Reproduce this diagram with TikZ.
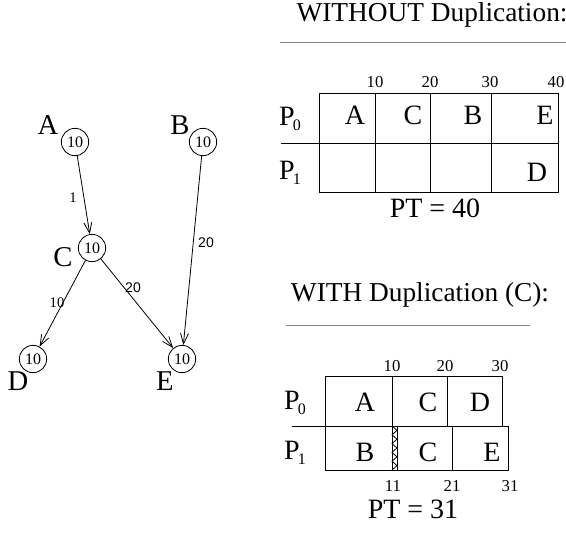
\documentclass[tikz,border=0pt]{standalone}
\usepackage{fontspec}
\setmainfont{Liberation Serif}
\setsansfont{Liberation Sans}
\usetikzlibrary{arrows.meta}

% processor name with a low index
\newcommand{\proc}[1]{P\kern-1.5pt\raisebox{-4pt}{\fontsize{12}{12}\selectfont #1}}

\begin{document}
\begin{tikzpicture}[x=0.75pt, y=-0.75pt, line width=0.6pt,
    task/.style={draw, circle, minimum size=20.5pt, inner sep=0pt, font=\fontsize{12}{12}\selectfont},
    tname/.style={font=\fontsize{21.5}{22}\selectfont},
    cost/.style={font=\fontsize{11}{12}\selectfont},
    scost/.style={font=\sffamily\fontsize{10.5}{12}\selectfont},
    edge/.style={-{Straight Barb[length=8pt,width=6pt]}},
    slot/.style={font=\fontsize{21}{22}\selectfont},
    tick/.style={inner sep=0.5pt, font=\fontsize{12.5}{13}\selectfont},
    title/.style={font=\fontsize{20.5}{22}\selectfont},
    total/.style={inner sep=1pt, font=\fontsize{21}{22}\selectfont}]
    \useasboundingbox (0,0) rectangle (566,535);

    % task graph
    \node[task] (a) at (75,142) {10};
    \node[task] (b) at (203,142) {10};
    \node[task] (c) at (92,248) {10};
    \node[task] (d) at (33,359) {10};
    \node[task] (e) at (182,359) {10};
    \node[tname] (la) at (48,125) {A};
    \node[tname] (lb) at (180,125) {B};
    \node[tname] (lc) at (63,257) {C};
    \node[tname] (ld) at (18,381) {D};
    \node[tname] (le) at (165,381) {E};
    \draw[edge] (a) -- (c);
    \draw[edge] (b) -- (e);
    \draw[edge] (c) -- (d);
    \draw[edge] (c) -- (e);
    \node[cost] (wac) at (73,198) {1};
    \node[scost] (wbe) at (206,243) {20};
    \node[scost] (wce) at (133,288) {20};
    \node[cost] (wcd) at (57,303) {10};

    % schedule without duplication
    \node[title] (t1) at (432,15) {WITHOUT Duplication:};
    \draw[gray] (280,42) -- (566,42);
    \draw (319,93) rectangle (558,192);
    \draw (281,143) -- (558,143);
    \foreach \x in {375,430,491} \draw (\x,93) -- (\x,192);
    \foreach \x/\t in {375/10,430/20,490/30,556/40}
        \node[tick] at (\x,82) {\t};
    \node[slot] (p0) at (290,119) {\proc{0}};
    \node[slot] (p1) at (290,173) {\proc{1}};
    \node[slot] at (355,115) {A};
    \node[slot] at (413,115) {C};
    \node[slot] at (473,115) {B};
    \node[slot] at (545,115) {E};
    \node[slot] at (537,172) {D};
    \node[total] (pt1) at (435,208) {PT = 40};

    % schedule with duplication of C
    \node[title] (t2) at (420,295) {WITH Duplication (C):};
    \draw[gray] (286,325) -- (530,325);
    \draw (325,426) -- (325,376) -- (502,376) -- (502,426);
    \draw (292,426) -- (508,426) -- (508,470) -- (325,470) -- (325,426);
    \draw (392,376) -- (392,470);
    \draw (447,376) -- (447,426);
    \draw (397,426) -- (397,470);
    \draw (452,426) -- (452,470);
    % idle gap on P1 before C can start
    \draw (392,426) \foreach \i in {0,...,4} { -- (397,430.4+8.8*\i) -- (392,434.8+8.8*\i) };
    \foreach \x/\t in {392/10,445/20,500/30}
        \node[tick] at (\x,366) {\t};
    \foreach \x/\t in {393/11,452/21,510/31}
        \node[tick] at (\x,486) {\t};
    \node[slot] (q0) at (295,403) {\proc{0}};
    \node[slot] (q1) at (295,453) {\proc{1}};
    \node[slot] at (365,402) {A};
    \node[slot] at (428,402) {C};
    \node[slot] at (480,402) {D};
    \node[slot] at (365,452) {B};
    \node[slot] at (428,452) {C};
    \node[slot] at (492,452) {E};
    \node[total] (pt2) at (413,509) {PT = 31};
\end{tikzpicture}
\end{document}
